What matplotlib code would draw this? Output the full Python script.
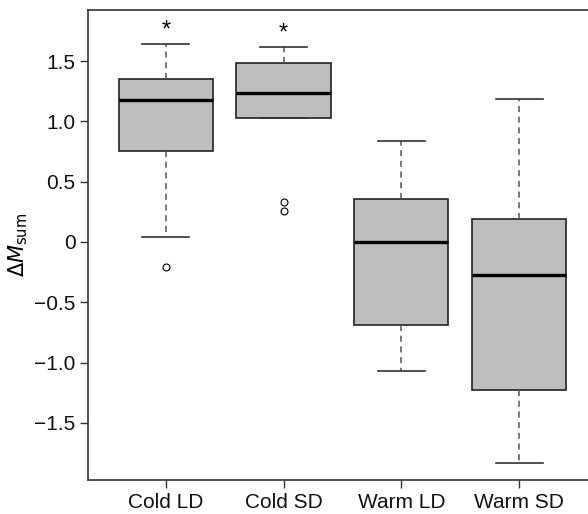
import matplotlib
matplotlib.use("Agg")
import matplotlib.pyplot as plt
from matplotlib.ticker import FuncFormatter

plt.rcParams['font.family'] = ['Liberation Sans', 'DejaVu Sans']

# box statistics
groups = ['Cold LD', 'Cold SD', 'Warm LD', 'Warm SD']
q1 = [0.755, 1.03, -0.69, -1.231]
med = [1.176, 1.234, 0.0, -0.277]
q3 = [1.355, 1.488, 0.357, 0.193]
wlo = [0.04, 1.03, -1.068, -1.834]
whi = [1.64, 1.615, 0.84, 1.184]
outliers = [[-0.205], [0.334, 0.26], [], []]
signif = ['*', '*', '', '']

stats = []
for i in range(len(groups)):
    stats.append(dict(label=groups[i], q1=q1[i], med=med[i], q3=q3[i],
                      whislo=wlo[i], whishi=whi[i], fliers=outliers[i]))

fig = plt.figure(figsize=(5.88, 5.14), dpi=100)
ax = fig.add_axes([88/588, 1 - 480/514, 1.005 - 88/588, 470/514])

ax.bxp(stats, positions=range(1, 5), widths=0.8, patch_artist=True,
       boxprops=dict(facecolor='#bebebe', edgecolor='#222222', linewidth=1.2),
       medianprops=dict(color='black', linewidth=2.4),
       whiskerprops=dict(color='#555555', linestyle=(0, (4, 3)), linewidth=1.1),
       capprops=dict(color='#333333', linewidth=1.2),
       capwidths=0.4,
       flierprops=dict(marker='o', markerfacecolor='white', markeredgecolor='black',
                       markersize=5, markeredgewidth=0.8))

for i, s in enumerate(signif):
    if s:
        ax.text(i + 1, whi[i] + 0.02, s, ha='center', va='bottom', fontsize=17)

ax.set_xlim(0.34, 4.61)
ax.set_ylim(-1.975, 1.925)
ax.set_yticks([-1.5, -1.0, -0.5, 0, 0.5, 1.0, 1.5])

def fmt(v, pos):
    if abs(v) < 1e-9:
        return '0'
    return ('%.1f' % v).replace('-', '\u2212')

ax.yaxis.set_major_formatter(FuncFormatter(fmt))
ax.tick_params(direction='out', length=6, width=1, colors='#333333',
               labelsize=15, labelcolor='#111111', pad=3)
ax.tick_params(axis='x', pad=3.5)
for sp in ax.spines.values():
    sp.set_color('#333333')
    sp.set_linewidth(1.2)
ax.set_ylabel(r'$\Delta M_{\mathrm{sum}}$', fontsize=15, labelpad=3)

fig.savefig('out.png', dpi=100)
